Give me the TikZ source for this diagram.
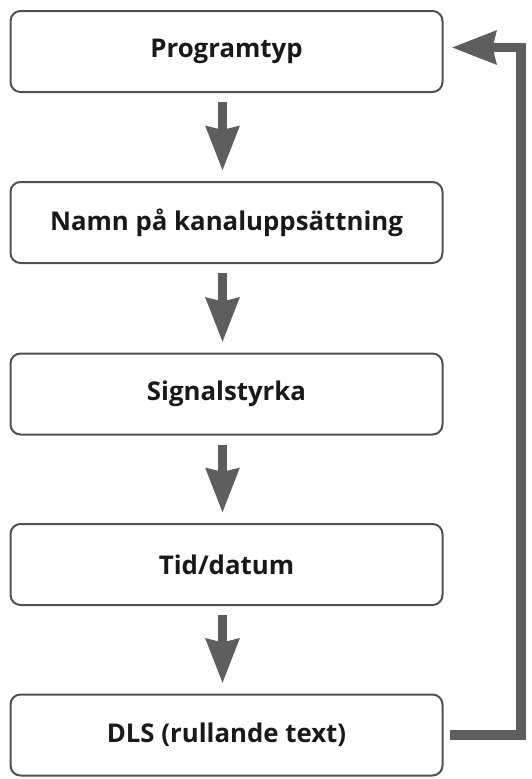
\documentclass[tikz,border=0pt]{standalone}
\usepackage{fontspec}
\setmainfont{Open Sans}
\usetikzlibrary{arrows.meta}
\definecolor{arrgray}{HTML}{5E5E5E}
\definecolor{boxgray}{HTML}{505050}
\tikzset{
  stepbox/.style={draw=boxgray, line width=2pt, rounded corners=10pt, fill=white,
    minimum width=432pt, minimum height=81pt, inner sep=0pt,
    font=\fontsize{25.8}{30}\selectfont\bfseries, text=black!90},
  downarr/.style={draw=arrgray, line width=9.5pt,
    -{Stealth[length=44pt, width=32pt, inset=3pt]}, shorten <=9pt, shorten >=10pt},
  retarr/.style={draw=arrgray, line width=9.5pt,
    -{Stealth[length=44pt, width=32pt, inset=3pt]}, shorten <=6pt, shorten >=8pt}
}
\begin{document}
\begin{tikzpicture}[x=1pt,y=1pt]
\useasboundingbox (0,0) rectangle (532,-779);
\node[stepbox] (b1) at (226.5,-51.5) {Programtyp};
\node[stepbox] (b2) at (226.5,-222.5) {Namn på kanaluppsättning};
\node[stepbox] (b3) at (226.5,-394) {Signalstyrka};
\node[stepbox] (b4) at (226.5,-564.5) {Tid/datum};
\node[stepbox] (b5) at (226.5,-735) {DLS (rullande text)};
\draw[downarr] ([xshift=-4pt]b1.south) -- ([xshift=-4pt]b2.north);
\draw[downarr] ([xshift=-4pt]b2.south) -- ([xshift=-4pt]b3.north);
\draw[downarr] ([xshift=-4pt]b3.south) -- ([xshift=-4pt]b4.north);
\draw[downarr] ([xshift=-4pt]b4.south) -- ([xshift=-4pt]b5.north);
\coordinate (rx) at (521,0);
\coordinate (top) at ([yshift=4pt]b1.east);
\draw[retarr, line join=miter] (b5.east) -- (b5.east -| rx) -- (top -| rx) -- (top);
\end{tikzpicture}
\end{document}
